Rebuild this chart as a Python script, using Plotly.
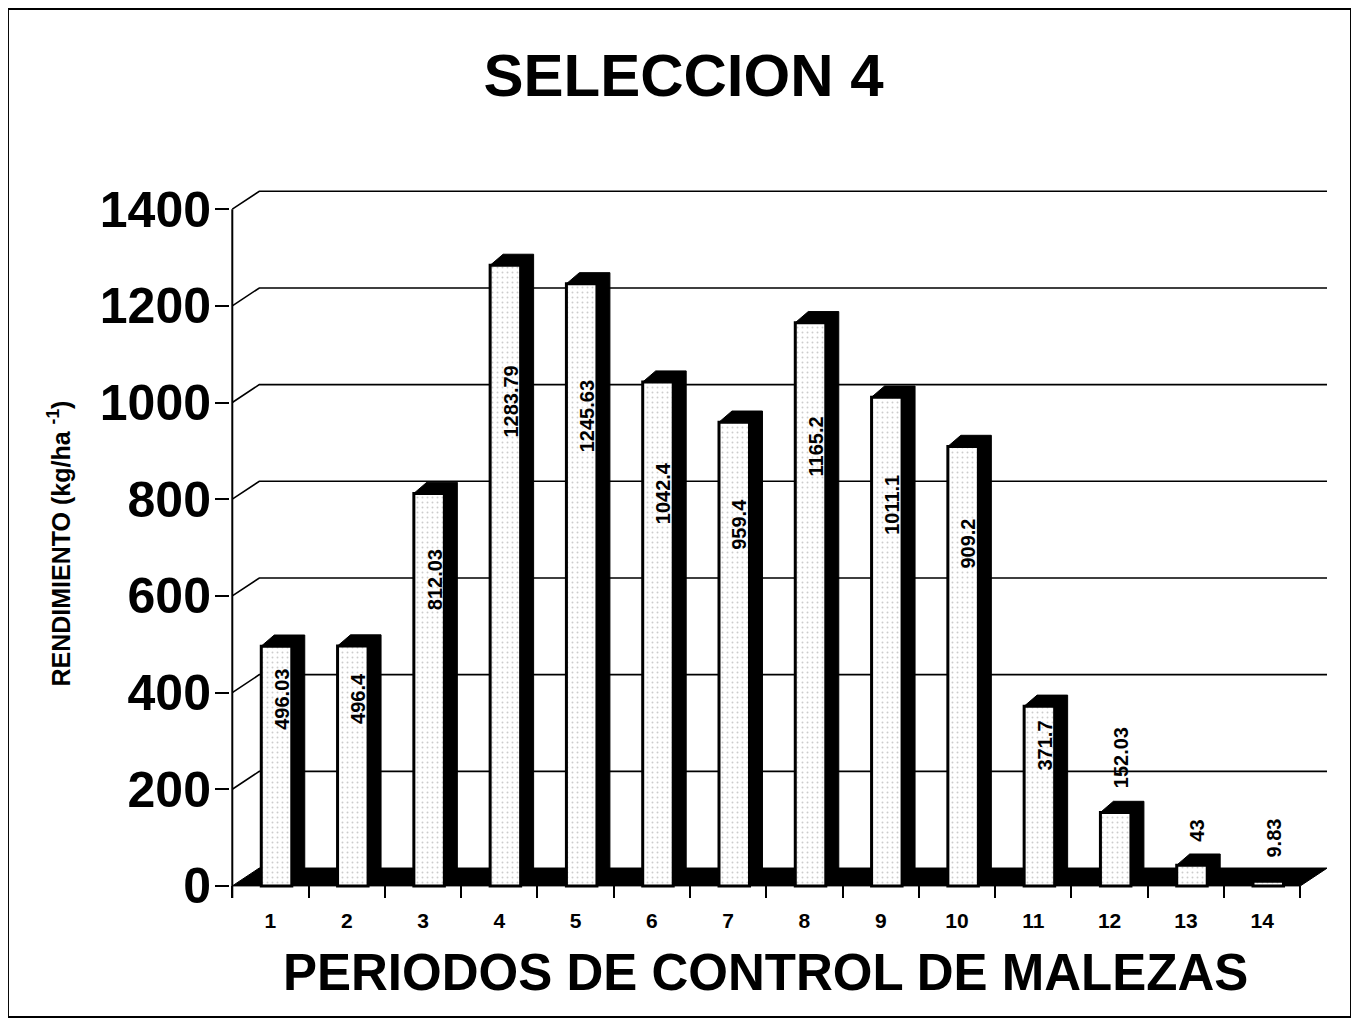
import plotly.graph_objects as go

periodos = list(range(1, 15))
rendimiento = [496.03, 496.4, 812.03, 1283.79, 1245.63, 1042.4, 959.4,
               1165.2, 1011.1, 909.2, 371.7, 152.03, 43, 9.83]
etiquetas = ["496.03", "496.4", "812.03", "1283.79", "1245.63", "1042.4", "959.4",
             "1165.2", "1011.1", "909.2", "371.7", "152.03", "43", "9.83"]
y_ticks = [0, 200, 400, 600, 800, 1000, 1200, 1400]

FONT = "Liberation Sans, Arial, sans-serif"

# 3d look: bar front face, bar depth, wall depth
face_off = -0.12
face_w = 0.40
bar_dx, bar_dy = 0.17, 23
wall_dx, wall_dy = 0.354, 37
x_lo, x_hi = 0.47, 14.85

fig = go.Figure()

fig.add_trace(go.Bar(
    x=periodos, y=rendimiento, width=face_w, offset=face_off,
    marker=dict(color="white", line=dict(color="black", width=3),
                pattern=dict(shape=".", fgcolor="#9a9a9a", bgcolor="white",
                             size=5, solidity=0.12)),
    showlegend=False, hoverinfo="skip",
))

# dark top + side of every bar
px_, py_ = [], []
for x, v in zip(periodos, rendimiento):
    x0 = x + face_off
    x1 = x0 + face_w
    px_ += [x0, x0 + bar_dx, x1 + bar_dx, x1 + bar_dx, x1, x1, x0, None]
    py_ += [v, v + bar_dy, v + bar_dy, bar_dy, 0, v, v, None]
fig.add_trace(go.Scatter(x=px_, y=py_, mode="lines", fill="toself",
                         fillcolor="black", line=dict(color="black", width=1),
                         showlegend=False, hoverinfo="skip"))

shapes = []
# floor
shapes.append(dict(type="path", xref="x", yref="y", layer="below",
                   path=f"M 0.5,0 L 14.5,0 L {14.5 + wall_dx},{wall_dy} L {0.5 + wall_dx},{wall_dy} Z",
                   fillcolor="black", line=dict(color="black", width=1)))
# back wall grid lines
for t in y_ticks[1:]:
    shapes.append(dict(type="path", xref="x", yref="y", layer="below",
                       path=f"M 0.5,{t} L {0.5 + wall_dx},{t + wall_dy} L {x_hi},{t + wall_dy}",
                       line=dict(color="black", width=1.6)))
# y axis line
shapes.append(dict(type="line", xref="x", yref="y", x0=0.5, x1=0.5, y0=-25, y1=1400,
                   line=dict(color="black", width=2)))
# outer frame
shapes.append(dict(type="rect", xref="paper", yref="paper", x0=-0.2024, x1=1.0219,
                   y0=-0.1669, y1=1.2468, line=dict(color="black", width=2)))

annotations = []
for x, v, s in zip(periodos, rendimiento, etiquetas):
    if v > 200:
        annotations.append(dict(x=x + 0.15, y=v * 0.78, text=s, textangle=-90,
                                showarrow=False, xanchor="center", yanchor="middle",
                                font=dict(family=FONT, size=20, color="black", weight="bold")))
    else:
        annotations.append(dict(x=x + 0.15, y=v + 45, text=s, textangle=-90,
                                showarrow=False, xanchor="center", yanchor="bottom",
                                font=dict(family=FONT, size=20, color="black", weight="bold")))

annotations.append(dict(x=0.4886, y=-0.1038, xref="paper", yref="paper",
                        text="PERIODOS DE CONTROL DE MALEZAS", showarrow=False,
                        xanchor="center", yanchor="middle",
                        font=dict(family=FONT, size=51, color="black", weight="bold")))
annotations.append(dict(x=-0.156, y=0.497, xref="paper", yref="paper",
                        text="RENDIMIENTO (kg/ha <sup>-1</sup>)", textangle=-90,
                        showarrow=False, xanchor="center", yanchor="middle",
                        font=dict(family=FONT, size=25, color="black", weight="bold")))

# the page body adds an 8px offset, so the figure is drawn 8px smaller
fig.update_layout(
    width=1351, height=1012,
    margin=dict(l=222, r=32, t=177, b=122),
    paper_bgcolor="white", plot_bgcolor="white",
    barmode="overlay",
    title=dict(text="SELECCION 4", x=0.5, xanchor="center", y=0.9338, yanchor="middle",
               font=dict(family=FONT, size=60, color="black", weight="bold")),
    shapes=shapes, annotations=annotations,
)
fig.update_xaxes(
    range=[x_lo, x_hi], showgrid=False, zeroline=False, showline=False,
    tickmode="array", tickvals=periodos, ticktext=[str(p) for p in periodos],
    ticks="", ticklabelstandoff=8,
    tickfont=dict(family=FONT, size=21, color="black", weight="bold"),
    minor=dict(tickmode="array", tickvals=[p - 0.5 for p in periodos] + [14.5],
               ticks="inside", ticklen=12, tickwidth=2, tickcolor="black", showgrid=False),
)
fig.update_yaxes(
    range=[-25, 1450], showgrid=False, zeroline=False, showline=False,
    tickmode="array", tickvals=y_ticks,
    ticks="outside", ticklen=14, tickwidth=2, tickcolor="black", ticklabelstandoff=-6,
    tickfont=dict(family=FONT, size=50, color="black", weight="bold"),
)

fig.write_html("out.html")
